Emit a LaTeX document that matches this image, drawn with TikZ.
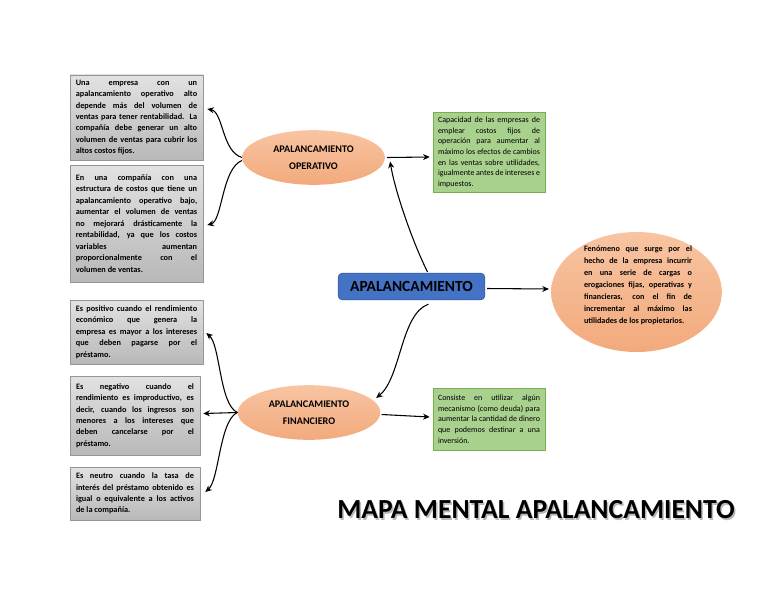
\documentclass[tikz,border=0pt]{standalone}
\usepackage{fontspec}
\setmainfont{Carlito}
\usetikzlibrary{positioning, arrows.meta, shapes.geometric, calc}
\definecolor{grisA}{RGB}{226,226,226}
\definecolor{grisB}{RGB}{184,184,184}
\definecolor{grisbd}{RGB}{150,150,150}
\definecolor{verde}{RGB}{169,209,142}
\definecolor{verdebd}{RGB}{120,175,80}
\definecolor{narA}{RGB}{248,196,162}
\definecolor{narB}{RGB}{242,170,124}
\definecolor{azul}{RGB}{68,114,196}
\definecolor{azulbd}{RGB}{47,82,143}
\hyphenpenalty=10000
\exhyphenpenalty=10000
\tolerance=9999
\hbadness=10000
\tikzset{
  nota/.style={rectangle, draw=grisbd, top color=grisA, bottom color=grisB,
               align=justify, inner sep=0pt, text width=91pt,
               minimum width=99.75pt, font=\fontsize{6.2}{8.6}\selectfont\bfseries},
  defn/.style={rectangle, draw=verdebd, fill=verde, align=justify,
               inner sep=0pt, text width=76.5pt, minimum width=84pt,
               font=\fontsize{6.0}{8}\selectfont},
  tema/.style={ellipse, top color=narA, bottom color=narB, align=center,
               inner sep=0pt, minimum width=107pt, minimum height=41pt,
               font=\fontsize{7.6}{12.5}\selectfont\bfseries},
  raiz/.style={rectangle, rounded corners=3pt, draw=azulbd, fill=azul,
               minimum width=110pt, minimum height=20pt,
               font=\fontsize{11.6}{13}\selectfont\bfseries},
  arr/.style={-{Stealth[length=5pt, width=4.5pt]}, thick},
}
\begin{document}
\begin{tikzpicture}[x=0.75pt, y=-0.75pt]
  \useasboundingbox (0,0) rectangle (768,594);
  % centre
  \node[raiz] (ap) at (411.5,286.5) {APALANCAMIENTO};
  \node[ellipse, top color=narA, bottom color=narB, inner sep=0pt,
        minimum width=128pt, minimum height=90pt] (fen) at (636.5,292) {};
  \node[align=justify, text width=81pt, inner sep=0pt,
        font=\fontsize{6.1}{9}\selectfont\bfseries] (fentx) at (638,285)
    {Fenómeno que surge por el\linebreak hecho de la empresa incurrir\linebreak en una serie de cargas o\linebreak erogaciones fijas, operativas y\linebreak financieras, con el fin de\linebreak incrementar al máximo las\linebreak utilidades de los propietarios.};
  % operativo branch
  \node[tema] (op) at (313.5,157.5) {APALANCAMIENTO\\OPERATIVO};
  \node[defn, minimum height=60pt] (d1) at (489,152.5)
    {Capacidad de las empresas de\linebreak emplear costos fijos de\linebreak operación para aumentar al\linebreak máximo los efectos de cambios\linebreak en las ventas sobre utilidades,\linebreak igualmente antes de intereses e\linebreak impuestos.};
  \node[nota, minimum height=64pt] (n1) at (136.5,117.5)
    {Una empresa con un\linebreak apalancamiento operativo alto\linebreak depende más del volumen de\linebreak ventas para tener rentabilidad. La\linebreak compañía debe generar un alto\linebreak volumen de ventas para cubrir los\linebreak altos costos fijos.};
  \node[nota, minimum height=87.75pt] (n2) at (136.5,223.5)
    {En una compañía con una\linebreak estructura de costos que tiene un\linebreak apalancamiento operativo bajo,\linebreak aumentar el volumen de ventas\linebreak no mejorará drásticamente la\linebreak rentabilidad, ya que los costos\linebreak variables aumentan\linebreak proporcionalmente con el\linebreak volumen de ventas.};
  % financiero branch
  \node[tema] (fin) at (309,412.5) {APALANCAMIENTO\\FINANCIERO};
  \node[defn, minimum height=46.5pt] (d2) at (489,419)
    {Consiste en utilizar algún\linebreak mecanismo (como deuda) para\linebreak aumentar la cantidad de dinero\linebreak que podemos destinar a una\linebreak inversión.};
  \node[nota, minimum height=48pt] (n3) at (136.5,332)
    {Es positivo cuando el rendimiento\linebreak económico que genera la\linebreak empresa es mayor a los intereses\linebreak que deben pagarse por el\linebreak préstamo.};
  \node[nota, text width=88.5pt, minimum width=97.5pt, minimum height=59.25pt] (n4) at (135,415.5)
    {Es negativo cuando el\linebreak rendimiento es improductivo, es\linebreak decir, cuando los ingresos son\linebreak menores a los intereses que\linebreak deben cancelarse por el\linebreak préstamo.};
  \node[nota, text width=88.5pt, minimum width=97.5pt, minimum height=39.75pt] (n5) at (135,493.5)
    {Es neutro cuando la tasa de\linebreak interés del préstamo obtenido es\linebreak igual o equivalente a los activos\linebreak de la compañía.};
  % title with shadow
  \node[text=gray!55, font=\fontsize{20.7}{24}\selectfont\bfseries] (titsh) at (537.5,511.5) {MAPA MENTAL APALANCAMIENTO};
  \node[font=\fontsize{20.7}{24}\selectfont\bfseries] (tit) at (536,510) {MAPA MENTAL APALANCAMIENTO};
  % connectors
  \draw[arr] (ap.east) ++(2,2) -- ($(fen.west)+(-2,-3)$);
  \draw[arr] ($(ap.north)+(16,-1)$) .. controls +(-15,-30) and +(5,30) .. ($(op.east)+(5,4)$);
  \draw[arr] ($(ap.south)+(17,4)$) .. controls +(-28,10) and +(25,-20) .. ($(fin.10)+(2,-3)$);
  \draw[arr] (op.east) ++(2,0) -- ($(d1.west)+(-3,4.5)$);
  \draw[arr] (fin.east) ++(1,2) -- ($(d2.west)+(-3,-2)$);
  \draw[arr] (op.west) .. controls +(-20,-6) and +(16,3) .. ($(n1.east)+(4,-8.5)$);
  \draw[arr] ($(op.west)+(0,3)$) .. controls +(-20,8) and +(15,-4) .. ($(n2.east)+(4,1.5)$);
  \draw[arr] (fin.west) .. controls +(-18,-8) and +(14,12) .. ($(n3.east)+(3,1)$);
  \draw[arr] (fin.west) -- ($(n4.east)+(3,-2)$);
  \draw[arr] (fin.west) .. controls +(-18,8) and +(14,-12) .. ($(n5.east)+(5,-1.5)$);
\end{tikzpicture}
\end{document}
